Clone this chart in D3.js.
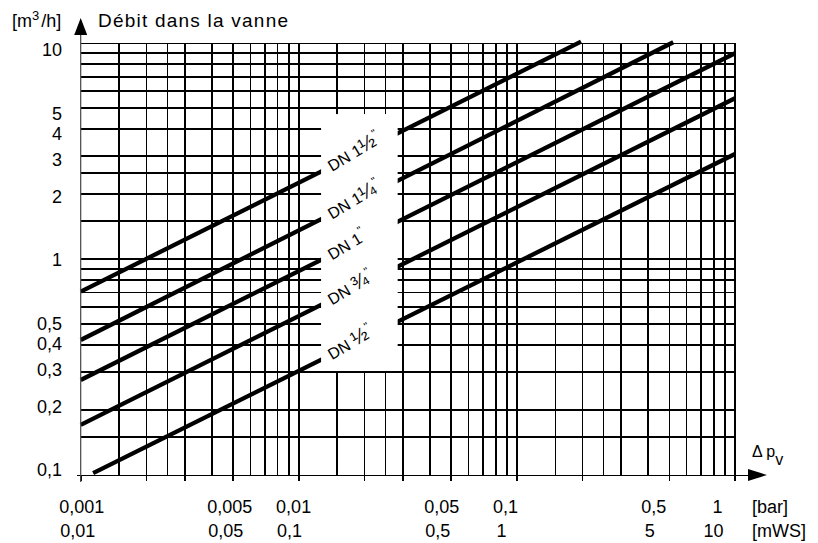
<!DOCTYPE html>
<html><head><meta charset="utf-8">
<script src="https://cdn.jsdelivr.net/npm/d3@7/dist/d3.min.js"></script>
<style>body{margin:0;background:#fff}svg{display:block}</style>
</head><body>
<svg id="c" width="818" height="543"></svg>
<script>
// ---- data ----
const xGrid = [0.0015,0.002,0.0025,0.003,0.004,0.005,0.006,0.007,0.008,0.009,0.01,
  0.015,0.02,0.025,0.03,0.04,0.05,0.06,0.07,0.08,0.09,0.1,
  0.15,0.2,0.25,0.3,0.4,0.5,0.6,0.7,0.8,0.9,1];
const yGrid = [0.15,0.2,0.3,0.4,0.5,0.6,0.7,0.8,0.9,1,1.5,2,2.5,3,4,5,6,7,8,9,10];
const xTicks = [0.001,0.002,0.003,0.005,0.01,0.02,0.03,0.05,0.1,0.2,0.5,1];
const barLabels = [0.001,0.005,0.01,0.05,0.1,0.5,1];
const mwsLabels = [0.01,0.05,0.1,0.5,1,5,10];
const yLabels = [0.1,0.2,0.3,0.4,0.5,1,2,3,4,5,10];
const seriesNames = ["DN ½","DN ¾","DN 1","DN 1¼","DN 1½"];
const seriesStart = [[0.00114,0.102],[0.001,0.1706],[0.001,0.2756],[0.001,0.422],[0.001,0.707]];
const seriesEnd   = [[1,3.07],[1,5.565],[1,8.99],[0.521,10.11],[0.1968,10.18]];
const gapX = [0.01265,0.0284];
const gapY = [0.3,4.7];
const labelAt = 0.0142;

// ---- scales ----
const x = d3.scaleLog().domain([0.001,1]).range([80.7,735]);
const y = d3.scaleLog().domain([0.1,10]).range([475,43.3]);
const xLab = d3.scaleLog().domain([0.001,1]).range([81.7,717.5]);
const xLab2 = d3.scaleLog().domain([0.01,10]).range([77.7,713.5]);
const yLab = d3.scaleLog().domain([0.1,10]).range([470,50]);
const fmt = v => String(v).replace(".", ",");
const FONT = "'Liberation Sans', Arial, Helvetica, sans-serif";

const svg = d3.select("#c").attr("font-family", FONT);

// grid
const g = svg.append("g").attr("stroke","#000").attr("stroke-width",1.6).attr("shape-rendering","crispEdges");
g.selectAll("line.v").data(xGrid).join("line").attr("class","v")
  .attr("x1", d=>x(d)).attr("x2", d=>x(d)).attr("y1", y(10)).attr("y2", y(0.1));
g.selectAll("line.h").data(yGrid).join("line").attr("class","h")
  .attr("x1", x(0.001)).attr("x2", x(1)).attr("y1", d=>y(d)).attr("y2", d=>y(d));

// curves
const line = d3.line().x(d=>x(d[0])).y(d=>y(d[1]));
svg.append("g").selectAll("path").data(seriesNames.map((n,i)=>[seriesStart[i],seriesEnd[i]]))
  .join("path").attr("d", line).attr("fill","none").attr("stroke","#000").attr("stroke-width",4.3);

// gap box
svg.append("rect").attr("x", x(gapX[0])).attr("width", x(gapX[1])-x(gapX[0]))
  .attr("y", y(gapY[1])).attr("height", y(gapY[0])-y(gapY[1])-1).attr("fill","#fff");

// DN labels
const ang = -31;
seriesNames.forEach((n,i)=>{
  const s = seriesStart[i], e = seriesEnd[i];
  const t = (Math.log(labelAt)-Math.log(s[0]))/(Math.log(e[0])-Math.log(s[0]));
  const q = Math.exp(Math.log(s[1]) + t*(Math.log(e[1])-Math.log(s[1])));
  const px = x(labelAt), py = y(q) + 6;
  const tx = svg.append("text").attr("transform",`translate(${px},${py}) rotate(${ang})`)
    .attr("font-size",16).attr("fill","#000");
  const m = n.match(/^(.*?)([½¼¾]?)$/);
  tx.append("tspan").text(m[1]);
  if (m[2]) tx.append("tspan").attr("font-size",20).text(m[2]);
  tx.append("tspan").attr("font-size",11).attr("dy",-8).attr("dx",1).text('"');
});

// x ticks
svg.append("g").attr("stroke","#000").attr("stroke-width",1.6).attr("shape-rendering","crispEdges")
  .selectAll("line").data(xTicks).join("line")
  .attr("x1", d=>x(d)).attr("x2", d=>x(d)).attr("y1", y(0.1)).attr("y2", y(0.1)+6);

// axes
const y0 = y(0.1), x0 = x(0.001);
svg.append("line").attr("x1", x0-4).attr("x2", 750).attr("y1", y0).attr("y2", y0)
  .attr("stroke","#000").attr("stroke-width",1).attr("shape-rendering","crispEdges");
svg.append("path").attr("d", `M748,${y0-6}L767,${y0}L748,${y0+6}Z`).attr("fill","#000");
svg.append("line").attr("x1", x0).attr("x2", x0).attr("y1", y0+7).attr("y2", 34)
  .attr("stroke","#444").attr("stroke-width",1.2);
svg.append("path").attr("d", `M${x0-6.5},35L${x0},18L${x0+6.5},35Z`).attr("fill","#000");

// tick labels
const lab = svg.append("g").attr("font-size",18).attr("fill","#000");
lab.selectAll("text.b").data(barLabels).join("text").attr("class","b")
  .attr("x", d=>xLab(d)).attr("y", 512.5).attr("text-anchor","middle").text(fmt);
lab.selectAll("text.m").data(mwsLabels).join("text").attr("class","m")
  .attr("x", d=>xLab2(d)).attr("y", 536.5).attr("text-anchor","middle").text(fmt);
lab.selectAll("text.y").data(yLabels).join("text").attr("class","y")
  .attr("x", 62).attr("y", d=>yLab(d)).attr("dy","0.36em").attr("text-anchor","end").text(fmt);
lab.append("text").attr("x",752).attr("y",512.5).text("[bar]");
lab.append("text").attr("x",752).attr("y",536.5).text("[mWS]");

// axis titles
const yt = svg.append("text").attr("x",12).attr("y",27).attr("font-size",18);
yt.append("tspan").text("[m");
yt.append("tspan").attr("font-size",13).attr("dy",-7).text("3");
yt.append("tspan").attr("dy",7).attr("dx",2).text("/h]");
svg.append("text").attr("x",98).attr("y",27).attr("font-size",19)
  .attr("textLength",190).attr("lengthAdjust","spacing").text("Débit dans la vanne");
const dp = svg.append("text").attr("x",752).attr("y",457).attr("font-size",16);
dp.append("tspan").text("Δ p");
dp.append("tspan").attr("dy",8).text("v");
</script>
</body></html>
